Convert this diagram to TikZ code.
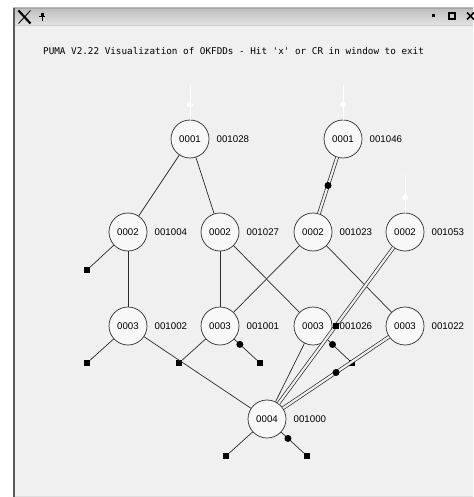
\documentclass[tikz,border=0pt]{standalone}
\usepackage{fontspec}
\setmainfont{Liberation Sans}
\newfontfamily\monofont{DejaVu Sans Mono}
\definecolor{bgc}{HTML}{F0F0F0}
\definecolor{edgec}{HTML}{2A2A2A}
\definecolor{nodefill}{HTML}{F8F8F8}
\definecolor{barlight}{HTML}{E2E2E2}
\definecolor{bardark}{HTML}{BEBEBE}
\tikzset{
  bdd/.style={circle, draw=edgec, fill=nodefill, line width=0.7pt,
    minimum size=38pt, inner sep=0pt, font=\fontsize{9.7}{11}\selectfont},
  lbl/.style={anchor=west, inner sep=0pt, font=\fontsize{9.7}{11}\selectfont},
  term/.style={rectangle, fill=black, minimum size=6pt, inner sep=0pt},
  edge/.style={draw=edgec, line width=0.7pt},
  cedge/.style={edge, double=bgc, double distance=2.2pt},
  cdot/.style={circle, fill=black, minimum size=7pt, inner sep=0pt},
  rootin/.style={draw=white, line width=1pt},
  rootdot/.style={circle, fill=white, minimum size=6pt, inner sep=0pt}
}
\begin{document}
\begin{tikzpicture}[x=1pt,y=-1pt]
\useasboundingbox (0,0) rectangle (473,497);
% screen and window body
\fill[white] (0,0) rectangle (473,497);
\fill[bgc] (13,8) rectangle (473,497);
% title bar
\shade[top color=bardark, bottom color=barlight] (13,8) rectangle (473,25);
\draw[gray!70, line width=0.8pt] (13,8.4) -- (473,8.4);
\draw[gray!40, line width=0.6pt] (13,25) -- (473,25);
\draw[black!65, line width=1.6pt] (13.8,8) -- (13.8,497);
\draw[gray!25, line width=1pt] (14.6,496.5) -- (473,496.5);
% window manager logo and pin
\draw[black, line width=2.2pt] (18.5,10.5) -- (30.5,23.5);
\draw[black, line width=0.9pt] (30.5,10.5) -- (18.5,23.5);
\fill[black] (40.5,13) rectangle (43.5,16.5);
\fill[black] (39,16.5) rectangle (45,17.5);
\draw[black, line width=0.8pt] (42,17.5) -- (42,21);
% window buttons
\fill[black] (431.5,14.5) rectangle (434.5,17.5);
\draw[black, line width=1.6pt] (449,13) rectangle (455,19);
\draw[black, line width=1.6pt] (467,12.5) -- (474,19.5);
\draw[black, line width=1.6pt] (467,19.5) -- (474,12.5);
% heading
\node[anchor=west, inner sep=0pt, font=\monofont\fontsize{9.3}{11}\selectfont] (title) at (43,51)
  {PUMA V2.22 Visualization of OKFDDs - Hit \textquotesingle x\textquotesingle{} or CR in window to exit};

% decision nodes
\node[bdd] (r1) at (190,139) {0001};
\node[bdd] (r2) at (343,139) {0001};
\node[bdd] (a1) at (128,232) {0002};
\node[bdd] (a2) at (220,232) {0002};
\node[bdd] (a3) at (313,232) {0002};
\node[bdd] (a4) at (405,232) {0002};
\node[bdd] (b1) at (128,326) {0003};
\node[bdd] (b2) at (220,326) {0003};
\node[bdd] (b3) at (313,326) {0003};
\node[bdd] (b4) at (405,326) {0003};
\node[bdd] (c)  at (267,419) {0004};

% node identifiers
\node[lbl] (r1l) at (216.5,139) {001028};
\node[lbl] (r2l) at (369.5,139) {001046};
\node[lbl] (a1l) at (154.5,232) {001004};
\node[lbl] (a2l) at (246.5,232) {001027};
\node[lbl] (a3l) at (339.5,232) {001023};
\node[lbl] (a4l) at (431.5,232) {001053};
\node[lbl] (b1l) at (154.5,326) {001002};
\node[lbl] (b2l) at (246.5,326) {001001};
\node[lbl] (b3l) at (339.5,326) {001026};
\node[lbl] (b4l) at (431.5,326) {001022};
\node[lbl] (cl)  at (293.5,419) {001000};

% terminal leaves
\node[term] (t1) at (87,270) {};
\node[term] (t2) at (87,363) {};
\node[term] (t3) at (179,363) {};
\node[term] (t4) at (260,363) {};
\node[term] (t5) at (352,363) {};
\node[term] (t6) at (226,456) {};
\node[term] (t7) at (307,456) {};

% root entry marks
\coordinate (r1in) at (190,85);
\coordinate (r2in) at (343,85);
\coordinate (a4in) at (405,175);
\draw[rootin] (r1in) -- node[rootdot, pos=0.57] (r1d) {} (r1);
\draw[rootin] (r2in) -- node[rootdot, pos=0.57] (r2d) {} (r2);
\draw[rootin] (a4in) -- node[rootdot, pos=0.6] (a4d) {} (a4);

% plain edges
\draw[edge] (r1) -- (a1);
\draw[edge] (r1) -- (a2);
\draw[edge] (a1) -- (t1);
\draw[edge] (a1) -- (b1);
\draw[edge] (a2) -- (b2);
\draw[edge] (a2) -- (b3);
\draw[edge] (a3) -- (b2);
\draw[edge] (a3) -- (b4);
\draw[edge] (b1) -- (t2);
\draw[edge] (b1) -- (c);
\draw[edge] (b2) -- (t3);
\draw[edge] (b3) -- (c);
\draw[edge] (c) -- (t6);

% edges with complement marks
\draw[edge] (b2) -- node[cdot, pos=0.25] (m1) {} (t4);
\draw[edge] (b3) -- node[cdot, pos=0.25] (m2) {} (t5);
\draw[edge] (c) -- node[cdot, pos=0.3] (m3) {} (t7);

% doubled edges
\draw[cedge] (r2) -- node[cdot, pos=0.5] (m4) {} (a3);
\draw[cedge] (a4) -- node[cdot, pos=0.5, rectangle, minimum size=6pt] (m5) {} (c);
\draw[cedge] (b4) -- node[cdot, pos=0.5] (m6) {} (c);
\end{tikzpicture}
\end{document}
